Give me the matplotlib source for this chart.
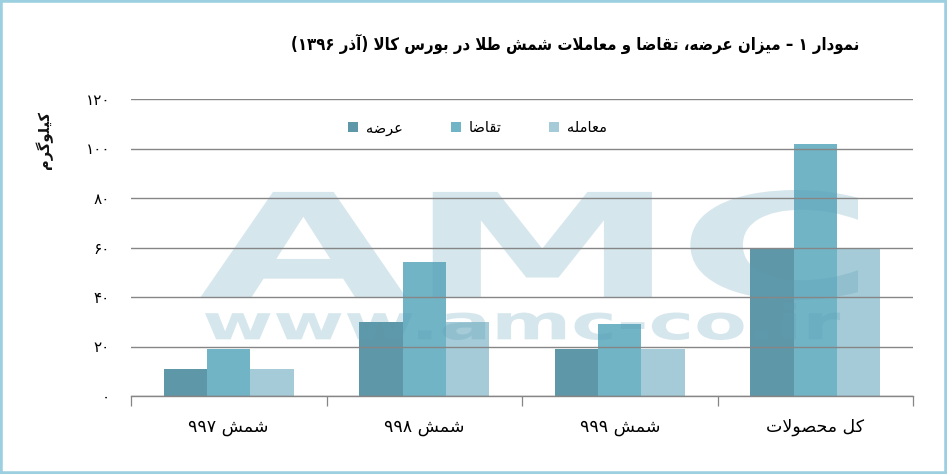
import re
import matplotlib
matplotlib.use('Agg')
import matplotlib.pyplot as plt
import numpy as np
from matplotlib.textpath import TextPath
from matplotlib.patches import PathPatch, Rectangle, Patch
from matplotlib.font_manager import FontProperties
from matplotlib.transforms import Affine2D

# ---------------- data ----------------
categories = ['شمش ۹۹۷', 'شمش ۹۹۸', 'شمش ۹۹۹', 'کل محصولات']
series_names = ['عرضه', 'تقاضا', 'معامله']
supply = [11, 30, 19, 60]
demand = [19, 54, 29, 102]
trade = [11, 30, 19, 60]
y_ticks = [0, 20, 40, 60, 80, 100, 120]
title_text = 'نمودار ۱ – میزان عرضه، تقاضا و معاملات شمش طلا در بورس کالا (آذر ۱۳۹۶)'
y_label = 'کیلوگرم'
colors = ['#5e97a8', '#71b4c6', '#a4cbd7']

# ---------------- minimal Persian shaping ----------------
FORMS = {
    '\u0627': ('\uFE8D', '\uFE8E', None, None),
    '\u0622': ('\uFE81', '\uFE82', None, None),
    '\u0628': ('\uFE8F', '\uFE90', '\uFE91', '\uFE92'),
    '\u062A': ('\uFE95', '\uFE96', '\uFE97', '\uFE98'),
    '\u062D': ('\uFEA1', '\uFEA2', '\uFEA3', '\uFEA4'),
    '\u062F': ('\uFEA9', '\uFEAA', None, None),
    '\u0630': ('\uFEAB', '\uFEAC', None, None),
    '\u0631': ('\uFEAD', '\uFEAE', None, None),
    '\u0632': ('\uFEAF', '\uFEB0', None, None),
    '\u0633': ('\uFEB1', '\uFEB2', '\uFEB3', '\uFEB4'),
    '\u0634': ('\uFEB5', '\uFEB6', '\uFEB7', '\uFEB8'),
    '\u0635': ('\uFEB9', '\uFEBA', '\uFEBB', '\uFEBC'),
    '\u0636': ('\uFEBD', '\uFEBE', '\uFEBF', '\uFEC0'),
    '\u0637': ('\uFEC1', '\uFEC2', '\uFEC3', '\uFEC4'),
    '\u0639': ('\uFEC9', '\uFECA', '\uFECB', '\uFECC'),
    '\u0642': ('\uFED5', '\uFED6', '\uFED7', '\uFED8'),
    '\u0644': ('\uFEDD', '\uFEDE', '\uFEDF', '\uFEE0'),
    '\u0645': ('\uFEE1', '\uFEE2', '\uFEE3', '\uFEE4'),
    '\u0646': ('\uFEE5', '\uFEE6', '\uFEE7', '\uFEE8'),
    '\u0647': ('\uFEE9', '\uFEEA', '\uFEEB', '\uFEEC'),
    '\u0648': ('\uFEED', '\uFEEE', None, None),
    '\u06A9': ('\uFB8E', '\uFB8F', '\uFB90', '\uFB91'),
    '\u06AF': ('\uFB92', '\uFB93', '\uFB94', '\uFB95'),
    '\u06CC': ('\uFBFC', '\uFBFD', '\uFBFE', '\uFBFF'),
}
LAMALEF = {'\u0627': ('\uFEFB', '\uFEFC'), '\u0622': ('\uFEF5', '\uFEF6')}
DIGITS = '0123456789\u06F0\u06F1\u06F2\u06F3\u06F4\u06F5\u06F6\u06F7\u06F8\u06F9'
MIRROR = str.maketrans('()', ')(')


def dual(c):
    return c in FORMS and FORMS[c][2] is not None


def shape(s):
    out = []
    i = 0
    n = len(s)
    while i < n:
        c = s[i]
        if c not in FORMS:
            out.append(c)
            i += 1
            continue
        prev_join = i > 0 and dual(s[i - 1])
        if c == '\u0644' and i + 1 < n and s[i + 1] in LAMALEF:
            out.append(LAMALEF[s[i + 1]][1 if prev_join else 0])
            i += 2
            continue
        next_join = dual(c) and i + 1 < n and s[i + 1] in FORMS
        iso, fin, ini, med = FORMS[c]
        if prev_join and next_join:
            out.append(med)
        elif prev_join:
            out.append(fin)
        elif next_join:
            out.append(ini)
        else:
            out.append(iso)
        i += 1
    return ''.join(out)


def fa(s):
    shaped = shape(s)
    runs = re.findall('[' + DIGITS + ']+|[^' + DIGITS + ']+', shaped)
    out = []
    for r in reversed(runs):
        if r[0] in DIGITS:
            out.append(r)
        else:
            out.append(r[::-1].translate(MIRROR))
    return ''.join(out)


def fa_num(v):
    return str(v).translate(str.maketrans('0123456789', '۰۱۲۳۴۵۶۷۸۹'))


plt.rcParams['font.family'] = ['DejaVu Sans']

# ---------------- figure ----------------
fig = plt.figure(figsize=(9.47, 4.74), dpi=100)
ax = fig.add_axes([131 / 947, 1 - 396 / 474, (913 - 131) / 947, (396 - 99) / 474])

x = np.arange(len(categories))
w = 0.222
series = [supply, demand, trade]
for k, (vals, col) in enumerate(zip(series, colors)):
    ax.bar(x + (k - 1) * w, vals, width=w, color=col, zorder=1, linewidth=0)

ax.set_xlim(-0.5, len(categories) - 0.5)
ax.set_ylim(0, 120)
ax.set_yticks(y_ticks)
ax.set_yticklabels([fa_num(v) for v in y_ticks], fontsize=11)
ax.tick_params(axis='y', length=0, pad=15)
ax.yaxis.grid(True, color='#868686', linewidth=1.0)
for gl in ax.yaxis.get_gridlines():
    gl.set_zorder(2.5)

ax.set_xticks(np.arange(-0.5, len(categories), 1.0))
ax.set_xticklabels([])
ax.tick_params(axis='x', which='major', length=7, color='#868686', width=0.9)
ax.set_xticks(x, minor=True)
ax.set_xticklabels([fa(c) for c in categories], minor=True, fontsize=12.5)
ax.tick_params(axis='x', which='minor', length=0, pad=16)

for sp in ['top', 'right', 'left']:
    ax.spines[sp].set_visible(False)
ax.spines['bottom'].set_color('#868686')
ax.spines['bottom'].set_linewidth(1.0)
ax.spines['bottom'].set_zorder(2.6)

# watermark (semi-transparent overlay)
def watermark(txt, box):
    fp = FontProperties(family='DejaVu Sans', weight='bold')
    tp = TextPath((0, 0), txt, size=100, prop=fp)
    ext = tp.get_extents()
    x0, y0, x1, y1 = box
    tr = (Affine2D().translate(-ext.x0, -ext.y0)
          .scale((x1 - x0) / ext.width, (y1 - y0) / ext.height)
          .translate(x0, y0)) + fig.transFigure
    p = PathPatch(tp, facecolor='#5b9fb7', alpha=0.25, edgecolor='none',
                  transform=tr, zorder=1.5, clip_on=False)
    ax.add_patch(p)

watermark('AMC', (200 / 947, 1 - 300 / 474, 858 / 947, 1 - 190 / 474))
watermark('www.amc-co.ir', (205 / 947, 1 - 340 / 474, 840 / 947, 1 - 303 / 474))

# legend
handles = [Patch(facecolor=colors[k], label=fa(series_names[k])) for k in range(3)]
ax.legend(handles=handles, ncol=3, loc='center', bbox_to_anchor=(0.443, 0.902),
          frameon=False, fontsize=10.5, handlelength=0.7, handleheight=0.7,
          columnspacing=3.3, handletextpad=0.5)

fig.text(575 / 947, 1 - 44 / 474, fa(title_text), ha='center', va='center',
         fontsize=12, fontweight='bold', fontstretch='condensed', color='#000000')
fig.text(44 / 947, 1 - 140 / 474, fa(y_label), ha='center', va='center',
         rotation=90, fontsize=10.5, fontweight='bold', color='#111111')

fig.patches.append(Rectangle((0, 0), 1, 1, transform=fig.transFigure, fill=False,
                             edgecolor='#9ccfdf', linewidth=4))

fig.savefig('out.png', dpi=100, facecolor='white')
